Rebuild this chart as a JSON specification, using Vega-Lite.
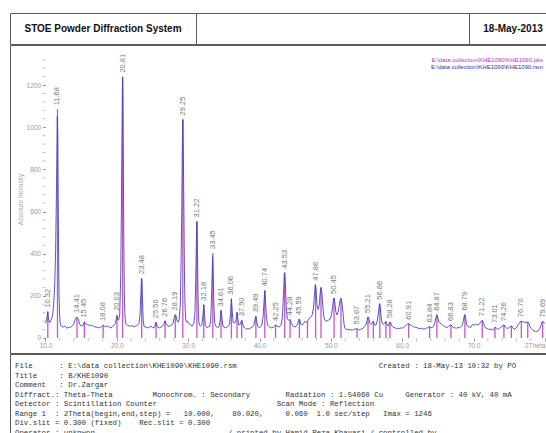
{
  "$schema": "https://vega.github.io/schema/vega-lite/v6.json",
  "padding": {"left": 9, "top": 12, "right": 0, "bottom": 0},
  "background": "white",
  "spacing": -2,
  "config": {
    "view": {"stroke": "#5a5a5a", "strokeWidth": 1},
    "axis": {"grid": false, "domain": false, "labelFont": "Liberation Sans", "titleFont": "Liberation Sans", "labelOverlap": false, "labelFlush": false},
    "title": {"font": "Liberation Sans", "subtitleFont": "Liberation Sans"}
  },
  "datasets": {
    "sticks": [
      {"t": 10.32, "h": 125, "lbl": "10.32"},
      {"t": 11.68, "h": 1085, "lbl": "11.68"},
      {"t": 14.41, "h": 100, "lbl": "14.41"},
      {"t": 15.45, "h": 78, "lbl": "15.45"},
      {"t": 18.08, "h": 62, "lbl": "18.08"},
      {"t": 20.03, "h": 110, "lbl": "20.03"},
      {"t": 20.81, "h": 1240, "lbl": "20.81"},
      {"t": 23.48, "h": 285, "lbl": "23.48"},
      {"t": 25.50, "h": 75, "lbl": "25.50"},
      {"t": 26.76, "h": 82, "lbl": "26.76"},
      {"t": 28.19, "h": 112, "lbl": "28.19"},
      {"t": 29.25, "h": 1037, "lbl": "29.25"},
      {"t": 31.22, "h": 553, "lbl": "31.22"},
      {"t": 32.18, "h": 158, "lbl": "32.18"},
      {"t": 33.45, "h": 403, "lbl": "33.45"},
      {"t": 34.61, "h": 131, "lbl": "34.61"},
      {"t": 36.06, "h": 186, "lbl": "36.06"},
      {"t": 36.85, "h": 120, "lbl": ""},
      {"t": 37.50, "h": 84, "lbl": "37.50"},
      {"t": 39.49, "h": 103, "lbl": "39.49"},
      {"t": 40.74, "h": 225, "lbl": "40.74"},
      {"t": 42.25, "h": 62, "lbl": "42.25"},
      {"t": 43.53, "h": 310, "lbl": "43.53"},
      {"t": 44.28, "h": 88, "lbl": "44.28"},
      {"t": 45.59, "h": 90, "lbl": "45.59"},
      {"t": 46.72, "h": 80, "lbl": ""},
      {"t": 47.86, "h": 253, "lbl": "47.86"},
      {"t": 48.62, "h": 240, "lbl": ""},
      {"t": 50.45, "h": 190, "lbl": "50.45"},
      {"t": 51.42, "h": 188, "lbl": ""},
      {"t": 53.67, "h": 45, "lbl": "53.67"},
      {"t": 55.21, "h": 100, "lbl": "55.21"},
      {"t": 55.95, "h": 80, "lbl": ""},
      {"t": 56.86, "h": 163, "lbl": "56.86"},
      {"t": 57.72, "h": 78, "lbl": ""},
      {"t": 58.28, "h": 76, "lbl": "58.28"},
      {"t": 60.91, "h": 68, "lbl": "60.91"},
      {"t": 63.84, "h": 55, "lbl": "63.84"},
      {"t": 64.87, "h": 110, "lbl": "64.87"},
      {"t": 66.83, "h": 62, "lbl": "66.83"},
      {"t": 68.79, "h": 111, "lbl": "68.79"},
      {"t": 71.22, "h": 84, "lbl": "71.22"},
      {"t": 73.01, "h": 52, "lbl": "73.01"},
      {"t": 74.26, "h": 62, "lbl": "74.26"},
      {"t": 75.30, "h": 57, "lbl": ""},
      {"t": 76.70, "h": 80, "lbl": "76.70"},
      {"t": 77.60, "h": 76, "lbl": ""},
      {"t": 79.69, "h": 78, "lbl": "79.69"}
    ],
    "xminor": [{"v":12},{"v":14},{"v":16},{"v":18},{"v":22},{"v":24},{"v":26},{"v":28},{"v":32},{"v":34},{"v":36},{"v":38},{"v":42},{"v":44},{"v":46},{"v":48},{"v":52},{"v":54},{"v":56},{"v":58},{"v":62},{"v":64},{"v":66},{"v":68},{"v":72},{"v":74},{"v":76},{"v":78}],
    "yminor": [{"v":40},{"v":80},{"v":120},{"v":160},{"v":240},{"v":280},{"v":320},{"v":360},{"v":440},{"v":480},{"v":520},{"v":560},{"v":640},{"v":680},{"v":720},{"v":760},{"v":840},{"v":880},{"v":920},{"v":960},{"v":1040},{"v":1080},{"v":1120},{"v":1160},{"v":1240},{"v":1280},{"v":1320}],
    "scan": [
      {"t":10.0,"i":70},{"t":10.1,"i":80},{"t":10.2,"i":95},{"t":10.28,"i":120},{"t":10.33,"i":125},{"t":10.4,"i":95},{"t":10.48,"i":80},{"t":10.6,"i":72},{"t":10.75,"i":85},{"t":10.9,"i":95},{"t":11.0,"i":110},{"t":11.15,"i":160},{"t":11.3,"i":260},{"t":11.42,"i":420},{"t":11.52,"i":650},{"t":11.6,"i":880},{"t":11.66,"i":1050},{"t":11.72,"i":960},{"t":11.78,"i":670},{"t":11.84,"i":380},{"t":11.9,"i":200},{"t":11.98,"i":110},{"t":12.06,"i":70},{"t":12.15,"i":58},{"t":12.3,"i":55},{"t":12.5,"i":52},{"t":12.7,"i":56},{"t":12.9,"i":50},{"t":13.1,"i":47},{"t":13.3,"i":52},{"t":13.5,"i":50},{"t":13.7,"i":57},{"t":13.9,"i":62},{"t":14.05,"i":75},{"t":14.2,"i":90},{"t":14.3,"i":97},{"t":14.41,"i":99},{"t":14.5,"i":95},{"t":14.6,"i":92},{"t":14.75,"i":70},{"t":14.9,"i":60},{"t":15.1,"i":57},{"t":15.3,"i":62},{"t":15.45,"i":76},{"t":15.55,"i":70},{"t":15.7,"i":66},{"t":15.9,"i":63},{"t":16.1,"i":62},{"t":16.3,"i":58},{"t":16.5,"i":60},{"t":16.7,"i":56},{"t":16.9,"i":53},{"t":17.1,"i":52},{"t":17.3,"i":50},{"t":17.5,"i":48},{"t":17.7,"i":50},{"t":17.9,"i":55},{"t":18.08,"i":60},{"t":18.25,"i":58},{"t":18.4,"i":52},{"t":18.6,"i":57},{"t":18.8,"i":55},{"t":19.0,"i":50},{"t":19.2,"i":48},{"t":19.4,"i":55},{"t":19.6,"i":62},{"t":19.8,"i":68},{"t":19.95,"i":95},{"t":20.03,"i":105},{"t":20.12,"i":88},{"t":20.25,"i":85},{"t":20.4,"i":110},{"t":20.55,"i":300},{"t":20.65,"i":650},{"t":20.73,"i":1000},{"t":20.8,"i":1238},{"t":20.86,"i":1150},{"t":20.92,"i":800},{"t":20.98,"i":450},{"t":21.05,"i":220},{"t":21.12,"i":120},{"t":21.2,"i":80},{"t":21.3,"i":65},{"t":21.5,"i":60},{"t":21.7,"i":58},{"t":21.9,"i":55},{"t":22.1,"i":60},{"t":22.3,"i":52},{"t":22.5,"i":55},{"t":22.7,"i":57},{"t":22.9,"i":62},{"t":23.1,"i":68},{"t":23.25,"i":110},{"t":23.38,"i":220},{"t":23.46,"i":282},{"t":23.52,"i":265},{"t":23.6,"i":180},{"t":23.7,"i":80},{"t":23.82,"i":55},{"t":24.0,"i":52},{"t":24.2,"i":50},{"t":24.4,"i":48},{"t":24.6,"i":52},{"t":24.8,"i":55},{"t":25.0,"i":50},{"t":25.2,"i":47},{"t":25.35,"i":58},{"t":25.5,"i":75},{"t":25.6,"i":62},{"t":25.8,"i":50},{"t":26.0,"i":48},{"t":26.2,"i":52},{"t":26.4,"i":56},{"t":26.6,"i":65},{"t":26.76,"i":82},{"t":26.9,"i":70},{"t":27.1,"i":58},{"t":27.3,"i":55},{"t":27.5,"i":58},{"t":27.7,"i":62},{"t":27.9,"i":72},{"t":28.05,"i":98},{"t":28.19,"i":110},{"t":28.3,"i":105},{"t":28.45,"i":80},{"t":28.6,"i":75},{"t":28.75,"i":90},{"t":28.9,"i":160},{"t":29.0,"i":350},{"t":29.1,"i":600},{"t":29.18,"i":900},{"t":29.25,"i":1037},{"t":29.32,"i":900},{"t":29.4,"i":600},{"t":29.48,"i":300},{"t":29.56,"i":150},{"t":29.65,"i":95},{"t":29.75,"i":75},{"t":29.9,"i":80},{"t":30.05,"i":72},{"t":30.2,"i":65},{"t":30.4,"i":60},{"t":30.6,"i":58},{"t":30.8,"i":70},{"t":30.95,"i":120},{"t":31.05,"i":260},{"t":31.15,"i":450},{"t":31.22,"i":553},{"t":31.3,"i":420},{"t":31.38,"i":200},{"t":31.48,"i":80},{"t":31.6,"i":60},{"t":31.75,"i":55},{"t":31.9,"i":60},{"t":32.05,"i":100},{"t":32.18,"i":158},{"t":32.28,"i":120},{"t":32.4,"i":60},{"t":32.6,"i":50},{"t":32.8,"i":52},{"t":33.0,"i":55},{"t":33.15,"i":80},{"t":33.3,"i":220},{"t":33.42,"i":385},{"t":33.5,"i":320},{"t":33.6,"i":160},{"t":33.72,"i":70},{"t":33.9,"i":55},{"t":34.1,"i":50},{"t":34.3,"i":52},{"t":34.45,"i":75},{"t":34.61,"i":131},{"t":34.72,"i":100},{"t":34.85,"i":62},{"t":35.0,"i":52},{"t":35.2,"i":48},{"t":35.4,"i":50},{"t":35.6,"i":55},{"t":35.8,"i":65},{"t":35.95,"i":120},{"t":36.06,"i":186},{"t":36.17,"i":130},{"t":36.3,"i":75},{"t":36.5,"i":70},{"t":36.7,"i":85},{"t":36.85,"i":123},{"t":36.95,"i":95},{"t":37.1,"i":62},{"t":37.3,"i":65},{"t":37.5,"i":84},{"t":37.62,"i":70},{"t":37.8,"i":52},{"t":38.0,"i":45},{"t":38.2,"i":42},{"t":38.4,"i":45},{"t":38.6,"i":43},{"t":38.8,"i":48},{"t":39.0,"i":52},{"t":39.2,"i":60},{"t":39.35,"i":85},{"t":39.49,"i":103},{"t":39.6,"i":80},{"t":39.75,"i":55},{"t":39.9,"i":50},{"t":40.1,"i":52},{"t":40.3,"i":58},{"t":40.5,"i":100},{"t":40.65,"i":180},{"t":40.74,"i":225},{"t":40.82,"i":190},{"t":40.95,"i":110},{"t":41.1,"i":65},{"t":41.3,"i":55},{"t":41.5,"i":50},{"t":41.7,"i":48},{"t":41.9,"i":50},{"t":42.1,"i":56},{"t":42.25,"i":62},{"t":42.4,"i":58},{"t":42.6,"i":55},{"t":42.8,"i":52},{"t":43.0,"i":60},{"t":43.2,"i":95},{"t":43.35,"i":200},{"t":43.47,"i":300},{"t":43.53,"i":310},{"t":43.62,"i":260},{"t":43.75,"i":140},{"t":43.9,"i":90},{"t":44.05,"i":85},{"t":44.2,"i":88},{"t":44.3,"i":86},{"t":44.45,"i":70},{"t":44.6,"i":60},{"t":44.8,"i":55},{"t":45.0,"i":52},{"t":45.2,"i":58},{"t":45.4,"i":72},{"t":45.55,"i":90},{"t":45.65,"i":85},{"t":45.8,"i":65},{"t":46.0,"i":62},{"t":46.2,"i":70},{"t":46.4,"i":80},{"t":46.55,"i":75},{"t":46.72,"i":80},{"t":46.85,"i":85},{"t":47.0,"i":95},{"t":47.2,"i":100},{"t":47.4,"i":110},{"t":47.55,"i":140},{"t":47.7,"i":200},{"t":47.82,"i":253},{"t":47.92,"i":230},{"t":48.05,"i":160},{"t":48.2,"i":135},{"t":48.35,"i":150},{"t":48.5,"i":210},{"t":48.62,"i":240},{"t":48.72,"i":225},{"t":48.85,"i":160},{"t":49.0,"i":105},{"t":49.15,"i":85},{"t":49.3,"i":80},{"t":49.5,"i":82},{"t":49.7,"i":85},{"t":49.9,"i":90},{"t":50.1,"i":110},{"t":50.25,"i":150},{"t":50.38,"i":185},{"t":50.45,"i":190},{"t":50.55,"i":170},{"t":50.7,"i":125},{"t":50.85,"i":110},{"t":51.0,"i":120},{"t":51.15,"i":150},{"t":51.3,"i":180},{"t":51.42,"i":188},{"t":51.55,"i":170},{"t":51.7,"i":120},{"t":51.85,"i":65},{"t":52.0,"i":45},{"t":52.2,"i":40},{"t":52.4,"i":42},{"t":52.6,"i":38},{"t":52.8,"i":40},{"t":53.0,"i":37},{"t":53.2,"i":40},{"t":53.4,"i":42},{"t":53.6,"i":45},{"t":53.75,"i":42},{"t":53.9,"i":38},{"t":54.1,"i":40},{"t":54.3,"i":43},{"t":54.5,"i":45},{"t":54.7,"i":55},{"t":54.9,"i":60},{"t":55.05,"i":80},{"t":55.2,"i":100},{"t":55.3,"i":95},{"t":55.45,"i":70},{"t":55.6,"i":65},{"t":55.8,"i":72},{"t":55.95,"i":80},{"t":56.1,"i":65},{"t":56.3,"i":60},{"t":56.5,"i":80},{"t":56.7,"i":130},{"t":56.82,"i":163},{"t":56.92,"i":150},{"t":57.05,"i":100},{"t":57.2,"i":70},{"t":57.4,"i":65},{"t":57.6,"i":75},{"t":57.75,"i":78},{"t":57.9,"i":60},{"t":58.1,"i":58},{"t":58.28,"i":76},{"t":58.4,"i":70},{"t":58.6,"i":55},{"t":58.8,"i":50},{"t":59.0,"i":48},{"t":59.2,"i":45},{"t":59.4,"i":47},{"t":59.6,"i":44},{"t":59.8,"i":48},{"t":60.0,"i":46},{"t":60.2,"i":50},{"t":60.4,"i":55},{"t":60.6,"i":62},{"t":60.8,"i":68},{"t":60.95,"i":67},{"t":61.1,"i":62},{"t":61.3,"i":60},{"t":61.5,"i":55},{"t":61.7,"i":50},{"t":61.9,"i":52},{"t":62.1,"i":48},{"t":62.3,"i":46},{"t":62.5,"i":44},{"t":62.7,"i":46},{"t":62.9,"i":43},{"t":63.1,"i":42},{"t":63.3,"i":45},{"t":63.5,"i":48},{"t":63.7,"i":52},{"t":63.84,"i":55},{"t":64.0,"i":48},{"t":64.2,"i":50},{"t":64.4,"i":55},{"t":64.6,"i":75},{"t":64.75,"i":100},{"t":64.87,"i":110},{"t":65.0,"i":95},{"t":65.15,"i":75},{"t":65.3,"i":70},{"t":65.5,"i":66},{"t":65.7,"i":60},{"t":65.9,"i":55},{"t":66.1,"i":52},{"t":66.3,"i":50},{"t":66.5,"i":55},{"t":66.7,"i":62},{"t":66.85,"i":62},{"t":67.0,"i":55},{"t":67.2,"i":50},{"t":67.4,"i":48},{"t":67.6,"i":46},{"t":67.8,"i":50},{"t":68.0,"i":48},{"t":68.2,"i":52},{"t":68.4,"i":60},{"t":68.6,"i":85},{"t":68.72,"i":108},{"t":68.79,"i":111},{"t":68.9,"i":90},{"t":69.05,"i":62},{"t":69.2,"i":55},{"t":69.4,"i":52},{"t":69.6,"i":50},{"t":69.8,"i":62},{"t":70.0,"i":65},{"t":70.2,"i":60},{"t":70.4,"i":66},{"t":70.6,"i":62},{"t":70.8,"i":66},{"t":71.0,"i":75},{"t":71.15,"i":82},{"t":71.25,"i":84},{"t":71.4,"i":70},{"t":71.55,"i":55},{"t":71.7,"i":48},{"t":71.9,"i":45},{"t":72.1,"i":42},{"t":72.3,"i":40},{"t":72.5,"i":42},{"t":72.7,"i":38},{"t":72.9,"i":42},{"t":73.05,"i":52},{"t":73.2,"i":46},{"t":73.4,"i":40},{"t":73.6,"i":45},{"t":73.8,"i":50},{"t":74.0,"i":55},{"t":74.15,"i":60},{"t":74.3,"i":62},{"t":74.45,"i":52},{"t":74.6,"i":48},{"t":74.8,"i":45},{"t":75.0,"i":50},{"t":75.2,"i":55},{"t":75.35,"i":57},{"t":75.5,"i":48},{"t":75.7,"i":42},{"t":75.9,"i":45},{"t":76.1,"i":52},{"t":76.3,"i":65},{"t":76.5,"i":75},{"t":76.65,"i":80},{"t":76.8,"i":78},{"t":77.0,"i":76},{"t":77.2,"i":72},{"t":77.4,"i":75},{"t":77.6,"i":76},{"t":77.75,"i":70},{"t":77.9,"i":55},{"t":78.1,"i":45},{"t":78.3,"i":38},{"t":78.5,"i":33},{"t":78.7,"i":30},{"t":78.9,"i":32},{"t":79.1,"i":35},{"t":79.3,"i":45},{"t":79.5,"i":65},{"t":79.65,"i":78},{"t":79.8,"i":76},{"t":80.0,"i":70}
    ],
    "footer": [
      {"n": 0, "s": "File\u00a0\u00a0\u00a0\u00a0\u00a0\u00a0: E:\\data collection\\KHE1090\\KHE1090.rsm\u00a0\u00a0\u00a0\u00a0\u00a0\u00a0\u00a0\u00a0\u00a0\u00a0\u00a0\u00a0\u00a0\u00a0\u00a0\u00a0\u00a0\u00a0\u00a0\u00a0\u00a0\u00a0\u00a0\u00a0\u00a0\u00a0\u00a0\u00a0\u00a0\u00a0\u00a0\u00a0Created : 18-May-13 10:32 by PO"},
      {"n": 1, "s": "Title\u00a0\u00a0\u00a0\u00a0\u00a0: B/KHE1090"},
      {"n": 2, "s": "Comment\u00a0\u00a0\u00a0: Dr.Zargar"},
      {"n": 3, "s": "Diffract.: Theta-Theta\u00a0\u00a0\u00a0\u00a0\u00a0\u00a0\u00a0\u00a0\u00a0Monochrom. : Secondary\u00a0\u00a0\u00a0\u00a0\u00a0\u00a0\u00a0\u00a0Radiation : 1.54060 Cu\u00a0\u00a0\u00a0\u00a0\u00a0Generator : 40 kV, 40 mA"},
      {"n": 4, "s": "Detector : Scintillation Counter\u00a0\u00a0\u00a0\u00a0\u00a0\u00a0\u00a0\u00a0\u00a0\u00a0\u00a0\u00a0\u00a0\u00a0\u00a0\u00a0\u00a0\u00a0\u00a0\u00a0\u00a0\u00a0\u00a0\u00a0\u00a0\u00a0\u00a0Scan Mode : Reflection"},
      {"n": 5, "s": "Range 1\u00a0\u00a0: 2Theta(begin,end,step) =\u00a0\u00a0\u00a010.000,\u00a0\u00a0\u00a0\u00a080.020,\u00a0\u00a0\u00a0\u00a0\u00a00.060\u00a0\u00a01.0 sec/step\u00a0\u00a0\u00a0Imax = 1246"},
      {"n": 6, "s": "\u00a0\u00a0\u00a0Div.slit = 0.300 (fixed)\u00a0\u00a0\u00a0\u00a0Rec.slit = 0.300"},
      {"n": 7, "s": "Operator : unknwon\u00a0\u00a0\u00a0\u00a0\u00a0\u00a0\u00a0\u00a0\u00a0\u00a0\u00a0\u00a0\u00a0\u00a0\u00a0\u00a0\u00a0\u00a0\u00a0\u00a0\u00a0\u00a0\u00a0\u00a0\u00a0\u00a0\u00a0\u00a0\u00a0\u00a0/ printed by Hamid Reza Khavasi / controlled by"}
    ]
  },
  "vconcat": [
    {
      "hconcat": [
        {
          "width": 186, "height": 31,
          "view": {"stroke": "#5a5a5a"},
          "data": {"values": [{"s": "STOE Powder Diffraction System"}]},
          "mark": {"type": "text", "font": "Liberation Sans", "fontSize": 10, "fontWeight": "bold", "color": "#111"},
          "encoding": {"text": {"field": "s"}}
        },
        {
          "width": 273, "height": 31,
          "view": {"stroke": "#5a5a5a"},
          "data": {"values": [{"s": ""}]},
          "mark": {"type": "text"},
          "encoding": {"text": {"field": "s"}}
        },
        {
          "width": 88, "height": 31,
          "view": {"stroke": "#5a5a5a"},
          "data": {"values": [{"s": "18-May-2013"}]},
          "mark": {"type": "text", "font": "Liberation Sans", "fontSize": 10, "fontWeight": "bold", "color": "#111"},
          "encoding": {"text": {"field": "s"}}
        }
      ],
      "spacing": 0,
      "bounds": "flush"
    },
    {
      "width": 540, "height": 308,
      "view": {"stroke": "#5a5a5a"},
      "title": {
        "text": "E:\\data collection\\KHE1090\\KHE1090.pks",
        "subtitle": "E:\\data collection\\KHE1090\\KHE1090.rsm",
        "anchor": "end", "orient": "top", "frame": "group",
        "offset": -24.5, "dx": -7,
        "fontSize": 6, "subtitleFontSize": 6, "fontWeight": "normal",
        "color": "#c030c0", "subtitleColor": "#3030a8", "subtitlePadding": 1
      },
      "layer": [
        {
          "data": {"name": "sticks"},
          "mark": {"type": "rule", "color": "#c855c8", "strokeWidth": 1.3},
          "encoding": {
            "x": {"field": "t", "type": "quantitative", "scale": {"domain": [5.024, 80.72], "nice": false, "zero": false},
                  "axis": {"values": [10,20,30,40,50,60,70,80],
                           "labelExpr": "datum.value === 80 ? '2Theta' : format(datum.value, '.1f')",
                           "labelAlign": {"condition": {"test": "datum.value === 80", "value": "right"}, "value": "center"},
                           "offset": -15, "tickSize": 3, "tickColor": "#999", "labelColor": "#999", "labelFontSize": 6.5, "labelPadding": 1, "title": null, "labelOverlap": false, "labelFlush": false}},
            "y": {"field": "h", "type": "quantitative", "scale": {"domain": [-71.2, 1390], "nice": false, "zero": false},
                  "axis": {"values": [0,200,400,600,800,1000,1200], "format": "d",
                           "offset": -35.5, "tickSize": 3, "tickColor": "#999", "labelColor": "#999", "labelFontSize": 6.5, "labelPadding": 2,
                           "title": "Absolute Intensity", "titleFontSize": 6.5, "titleFontWeight": "normal", "titleColor": "#aaa", "titlePadding": 3, "labelOverlap": false, "labelFlush": false}},
            "y2": {"datum": 0}
          }
        },
        {
          "data": {"name": "xminor"},
          "mark": {"type": "tick", "orient": "vertical", "size": 3, "thickness": 1, "color": "#aaa"},
          "encoding": {
            "x": {"field": "v", "type": "quantitative", "scale": {"domain": [5.024, 80.72], "nice": false, "zero": false}},
            "y": {"datum": -7.1, "type": "quantitative", "scale": {"domain": [-71.2, 1390], "nice": false, "zero": false}}
          }
        },
        {
          "data": {"name": "yminor"},
          "mark": {"type": "tick", "orient": "horizontal", "size": 3, "thickness": 1, "color": "#aaa"},
          "encoding": {
            "x": {"datum": 9.79, "type": "quantitative", "scale": {"domain": [5.024, 80.72], "nice": false, "zero": false}},
            "y": {"field": "v", "type": "quantitative", "scale": {"domain": [-71.2, 1390], "nice": false, "zero": false}}
          }
        },
        {
          "data": {"name": "scan"},
          "mark": {"type": "line", "color": "#4444bb", "strokeWidth": 0.9},
          "encoding": {
            "x": {"field": "t", "type": "quantitative", "scale": {"domain": [5.024, 80.72], "nice": false, "zero": false}},
            "y": {"field": "i", "type": "quantitative", "scale": {"domain": [-71.2, 1390], "nice": false, "zero": false}}
          }
        },
        {
          "data": {"name": "sticks"},
          "transform": [{"filter": "datum.lbl !== ''"}],
          "mark": {"type": "text", "angle": 270, "align": "left", "baseline": "middle", "dx": 4, "font": "Liberation Sans", "fontSize": 7.5, "color": "#777"},
          "encoding": {
            "x": {"field": "t", "type": "quantitative", "scale": {"domain": [5.024, 80.72], "nice": false, "zero": false}},
            "y": {"field": "h", "type": "quantitative", "scale": {"domain": [-71.2, 1390], "nice": false, "zero": false}},
            "text": {"field": "lbl"}
          }
        }
      ]
    },
    {
      "width": 540, "height": 90,
      "view": {"stroke": "#5a5a5a"},
      "data": {"name": "footer"},
      "mark": {"type": "text", "align": "left", "baseline": "middle", "font": "Liberation Mono", "fontSize": 7.4, "color": "#333"},
      "encoding": {
        "x": {"datum": 0, "type": "quantitative", "scale": {"domain": [-1.124, 120.23], "nice": false, "zero": false}, "axis": null},
        "y": {"field": "n", "type": "quantitative", "scale": {"domain": [-1.295, 8.179], "reverse": true, "nice": false, "zero": false}, "axis": null},
        "text": {"field": "s"}
      }
    }
  ]
}
